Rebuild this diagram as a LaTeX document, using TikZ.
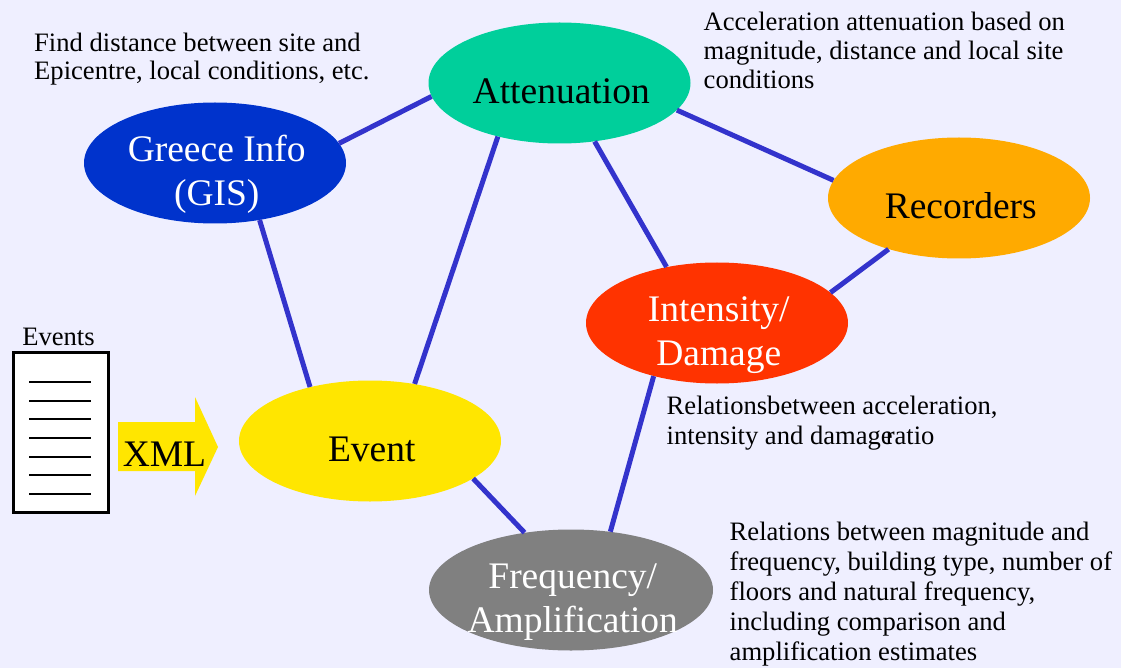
\documentclass[tikz,border=0pt]{standalone}
\usepackage{fontspec}
\usetikzlibrary{shapes.geometric}
\setmainfont{Liberation Serif}
\definecolor{pagebg}{HTML}{EFEFFF}
\definecolor{linkblue}{HTML}{3333CC}
\definecolor{attncol}{HTML}{00CF9B}
\definecolor{gridcol}{HTML}{0033CC}
\definecolor{reccol}{HTML}{FFAA00}
\definecolor{intcol}{HTML}{FF3300}
\definecolor{evtcol}{HTML}{FFE600}
\definecolor{freqcol}{HTML}{808080}
\newcommand{\blobtext}[1]{\makebox[0pt][c]{\hspace*{3.5pt}\raisebox{-18pt}[0pt][0pt]{\begin{tabular}{@{}c@{}}#1\end{tabular}}}}
\tikzset{
  blob/.style={ellipse, inner sep=0pt, minimum width=262pt, minimum height=121pt,
    font=\fontsize{37.5}{44}\selectfont},
  note/.style={anchor=north west, inner sep=0pt, align=left,
    font=\fontsize{26.6}{30}\selectfont},
  link/.style={draw=linkblue, line width=5pt},
  rule/.style={line width=2.2pt}
}
\begin{document}
\begin{tikzpicture}[x=1pt,y=-1pt]
  \fill [pagebg] (0,0) rectangle (1121,668);
  \useasboundingbox (0,0) rectangle (1121,668);

  \node [blob, fill=attncol]               (attn) at (559.5,83) {\blobtext{Attenuation}};
  \node [blob, fill=gridcol, text=white]   (gis)  at (215,163)  {\blobtext{Greece Info\\(GIS)}};
  \node [blob, fill=reccol]                (rec)  at (959,198)  {\blobtext{Recorders}};
  \node [blob, fill=intcol, text=white]    (int)  at (717,323)  {\blobtext{Intensity/\\Damage}};
  \node [blob, fill=evtcol]                (evt)  at (370,441)  {\blobtext{Event}};
  \node [blob, fill=freqcol, text=white, minimum width=284pt] (freq) at (571,590) {\blobtext{Frequency/\\Amplification}};

  \node [note, font=\fontsize{26.6}{28}\selectfont] (ngis)  at (34,33) {Find distance between site and\\Epicentre, local conditions, etc.};
  \node [note, font=\fontsize{26.6}{29}\selectfont] (nattn) at (703.5,12) {Acceleration attenuation based on\\magnitude, distance and local site\\conditions};
  \node [note] (nint)  at (666.5,396) {Relationsbetween acceleration,\\intensity and damage\kern-7pt ratio};
  \node [note] (nfreq) at (729.5,522) {Relations between magnitude and\\frequency, building type, number of\\floors and natural frequency,\\including comparison and\\amplification estimates};

  \draw [link] (attn.186)   -- (gis.9.5);
  \draw [link] (attn.-13)   -- (rec.172.3);
  \draw [link] (attn.221.5) -- (evt.52.2);
  \draw [link] (attn.-59.3) -- (int.132.3);
  \draw [link] (gis.-52)    -- (evt.138);
  \draw [link] (rec.216)    -- (int.15.7);
  \draw [link] (int.220.4)  -- (freq.56.3);
  \draw [link] (evt.-20.6)  -- (freq.129.5);

  % event list
  \node [draw, fill=white, line width=3pt, minimum width=95pt, minimum height=160pt, inner sep=0pt] (list) at (61,432.5) {};
  \node [font=\fontsize{26.6}{30}\selectfont, inner sep=0pt, anchor=base] (listlab) at (58.5,345) {Events};
  \foreach \y in {382,400.7,419.3,438,456.7,475.3,494}
    \draw [rule] (29,\y) -- (91,\y);

  % arrow into event
  \fill [evtcol] (118,422) -- (195,422) -- (195,397) -- (218,447) -- (195,496) -- (195,471) -- (118,471) -- cycle;
  \node [font=\fontsize{37.5}{44}\selectfont, inner sep=0pt, anchor=base] (xml) at (164.5,466) {XML};
\end{tikzpicture}
\end{document}
